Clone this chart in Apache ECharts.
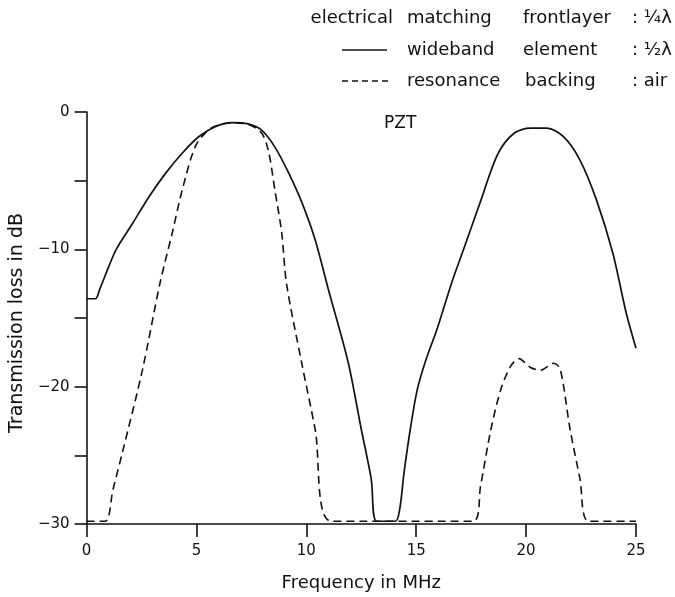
<!DOCTYPE html>
<html>
<head>
<meta charset="utf-8">
<script src="https://cdn.jsdelivr.net/npm/echarts@6/dist/echarts.min.js"></script>
<style>
  html, body { margin: 0; padding: 0; background: #ffffff; }
  #chart { width: 675px; height: 597px; }
</style>
</head>
<body>
<div id="chart"></div>
<script>
// Transmission loss of a PZT transducer, wideband vs. resonance design
const wideFreq = [0, 0.4, 0.6, 1.0, 1.35, 2.1, 2.85, 3.6, 4.35, 5.1, 5.85, 6.6, 7.35, 7.95, 8.55, 9.2, 9.8, 10.4, 11.0, 11.9, 12.5, 12.95, 13.2, 14.05, 14.25, 14.45, 14.75, 15.05, 15.45, 15.95, 16.6, 17.2, 17.95, 18.7, 19.45, 20.2, 20.95, 21.7, 22.45, 23.2, 23.95, 24.55, 25.0];
const wideLoss = [-13.6, -13.6, -12.9, -11.3, -10.0, -8.1, -6.15, -4.45, -3.0, -1.8, -1.07, -0.77, -0.86, -1.3, -2.5, -4.45, -6.6, -9.3, -12.9, -18.2, -23.1, -26.7, -29.8, -29.8, -28.9, -26.2, -22.9, -20.2, -18.0, -15.8, -12.5, -9.8, -6.4, -3.1, -1.55, -1.18, -1.18, -1.8, -3.5, -6.4, -10.3, -14.6, -17.2];

const resFreq = [0, 0.85, 1.2, 1.63, 2.54, 3.35, 3.9, 4.35, 4.95, 5.55, 6.0, 6.6, 7.35, 7.95, 8.27, 8.57, 8.88, 9.1, 9.78, 10.4, 11.14, 17.6, 17.93, 18.4, 18.85, 19.3, 19.67, 20.2, 20.65, 21.25, 21.55, 22.0, 22.45, 22.85, 25.0];
const resLoss = [-29.8, -29.8, -27.5, -24.8, -18.8, -12.4, -8.8, -5.7, -2.5, -1.3, -0.95, -0.8, -0.9, -1.5, -2.8, -5.7, -8.8, -12.5, -18.2, -23.1, -29.8, -29.8, -27.2, -23.1, -20.2, -18.5, -17.96, -18.6, -18.8, -18.3, -18.7, -23.1, -26.7, -29.8, -29.8];

const xTicks = [0, 5, 10, 15, 20, 25];
const yLabelled = [0, -10, -20, -30];

const FONT = '"DejaVu Sans", "Liberation Sans", sans-serif';
const INK = '#111111';

const pairs = (xs, ys) => xs.map((x, i) => [x, ys[i]]);

const chart = echarts.init(document.getElementById('chart'), null, { renderer: 'canvas' });

const legendText = (text, x, y, align) => ({
  type: 'text',
  x: x, y: y,
  style: {
    text: text, fill: INK, font: '18px ' + FONT,
    textAlign: align || 'left', textVerticalAlign: 'middle'
  }
});

chart.setOption({
  backgroundColor: '#ffffff',
  animation: false,
  grid: { left: 84, right: 39, top: 112, bottom: 72, containLabel: false },
  xAxis: {
    type: 'value', min: 0, max: 25, interval: 5,
    name: 'Frequency in MHz', nameLocation: 'middle', nameGap: 50,
    nameTextStyle: { color: INK, fontFamily: FONT, fontSize: 18 },
    axisLine: { show: true, onZero: false, lineStyle: { color: INK, width: 1.6 } },
    axisTick: { show: true, length: 13, lineStyle: { color: INK, width: 1.6 } },
    axisLabel: {
      color: INK, fontFamily: FONT, fontSize: 15, margin: 20,
      formatter: v => xTicks.includes(v) ? String(v) : ''
    },
    splitLine: { show: false }
  },
  yAxis: {
    type: 'value', min: -30, max: 0, interval: 5,
    name: 'Transmission loss in dB', nameLocation: 'middle', nameGap: 57,
    nameTextStyle: { color: INK, fontFamily: FONT, fontSize: 19, padding: [0, 10, 0, 0] },
    axisLine: { show: true, onZero: false, lineStyle: { color: INK, width: 1.6 } },
    axisTick: { show: true, length: 12, lineStyle: { color: INK, width: 1.6 } },
    axisLabel: {
      color: INK, fontFamily: FONT, fontSize: 15, margin: 17,
      formatter: v => yLabelled.includes(v) ? (v < 0 ? '\u2212' + Math.abs(v) : String(v)) : ''
    },
    splitLine: { show: false }
  },
  series: [
    {
      name: 'wideband', type: 'line', data: pairs(wideFreq, wideLoss),
      showSymbol: false, smooth: 0.3, clip: true,
      lineStyle: { color: INK, width: 1.7, type: 'solid' }
    },
    {
      name: 'resonance', type: 'line', data: pairs(resFreq, resLoss),
      showSymbol: false, smooth: 0.3, clip: true,
      lineStyle: { color: INK, width: 1.6, type: [8, 5] }
    }
  ],
  graphic: [
    // key: header row and one row per design
    legendText('electrical', 393, 18, 'right'),
    legendText('matching', 407, 18),
    legendText('frontlayer', 523, 18),
    legendText(': \u00BC\u03BB', 632, 18),

    { type: 'line', shape: { x1: 342, y1: 50, x2: 387, y2: 50 },
      style: { stroke: INK, lineWidth: 1.6 } },
    legendText('wideband', 407, 50),
    legendText('element', 523, 50),
    legendText(': \u00BD\u03BB', 632, 50),

    { type: 'line', shape: { x1: 342, y1: 81, x2: 388, y2: 81 },
      style: { stroke: INK, lineWidth: 1.6, lineDash: [6, 4] } },
    legendText('resonance', 407, 81),
    legendText('backing', 525, 81),
    legendText(': air', 632, 81),

    // material label
    { type: 'text', x: 384, y: 124,
      style: { text: 'PZT', fill: INK, font: '17px ' + FONT, textAlign: 'left', textVerticalAlign: 'middle' } }
  ]
});
</script>
</body>
</html>
